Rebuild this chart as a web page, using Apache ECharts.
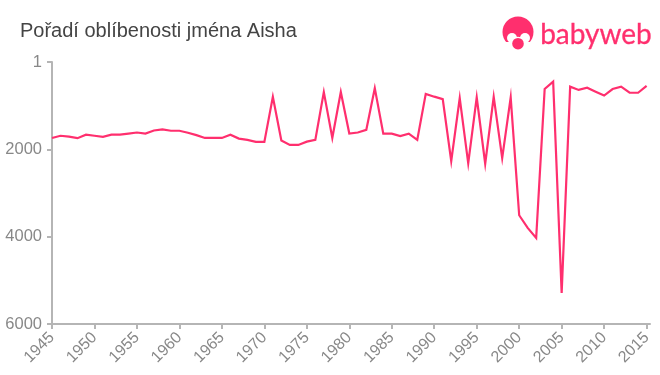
<!DOCTYPE html>
<html>
<head>
<meta charset="utf-8">
<title>Pořadí oblíbenosti jména Aisha</title>
<script src="https://cdn.jsdelivr.net/npm/echarts@6/dist/echarts.min.js"></script>
<style>
  html, body { margin: 0; padding: 0; background: #fff; }
  #main { width: 660px; height: 375px; }
</style>
</head>
<body>
<div id="main"></div>
<script>
const titleText = "Pořadí oblíbenosti jména Aisha";
const logoText = "babyweb";
const years = [
  1945, 1946, 1947, 1948, 1949, 1950, 1951, 1952, 1953, 1954,
  1955, 1956, 1957, 1958, 1959, 1960, 1961, 1962, 1963, 1964,
  1965, 1966, 1967, 1968, 1969, 1970, 1971, 1972, 1973, 1974,
  1975, 1976, 1977, 1978, 1979, 1980, 1981, 1982, 1983, 1984,
  1985, 1986, 1987, 1988, 1989, 1990, 1991, 1992, 1993, 1994,
  1995, 1996, 1997, 1998, 1999, 2000, 2001, 2002, 2003, 2004,
  2005, 2006, 2007, 2008, 2009, 2010, 2011, 2012, 2013, 2014,
  2015,
];
const ranks = [
  1740, 1690, 1710, 1745, 1665, 1690, 1715, 1665, 1665, 1640,
  1615, 1640, 1570, 1545, 1575, 1575, 1620, 1675, 1740, 1740,
  1740, 1665, 1755, 1785, 1830, 1830, 800, 1800, 1900, 1900,
  1825, 1785, 690, 1740, 690, 1640, 1615, 1555, 600, 1640,
  1640, 1695, 1640, 1785, 730, 795, 850, 2270, 830, 2320,
  810, 2330, 800, 2200, 810, 3510, 3800, 4030, 620, 450,
  5290, 565, 640, 590, 680, 770, 620, 565, 705, 705,
  550,
];
const xTicks = [1945, 1950, 1955, 1960, 1965, 1970, 1975, 1980, 1985, 1990, 1995, 2000, 2005, 2010, 2015];
const yTicks = [1, 2000, 4000, 6000];

const pink = "#ff2f6e";
const axisColor = "#b5b5b5";
const labelColor = "#888888";

var myChart = echarts.init(document.getElementById("main"));
var option = {
  animation: false,
  textStyle: { fontFamily: "Liberation Sans" },
  grid: { left: 52, right: 10, top: 62, bottom: 51 },
  xAxis: {
    type: "value",
    min: 1945,
    max: 2015.4,
    splitLine: { show: false },
    axisLine: { lineStyle: { color: axisColor, width: 2 } },
    axisTick: { length: 5, customValues: xTicks, lineStyle: { color: axisColor, width: 2 } },
    axisLabel: {
      customValues: xTicks,
      rotate: 45,
      margin: 11,
      fontSize: 16,
      color: labelColor,
      formatter: (v) => String(v),
    },
  },
  yAxis: {
    type: "value",
    inverse: true,
    min: 1,
    max: 6000,
    splitLine: { show: false },
    axisLine: { show: true, lineStyle: { color: axisColor, width: 2 } },
    axisTick: { show: true, length: 5, customValues: yTicks, lineStyle: { color: axisColor, width: 2 } },
    axisLabel: {
      customValues: yTicks,
      margin: 10,
      fontSize: 16.5,
      color: labelColor,
      formatter: (v) => String(v),
    },
  },
  series: [
    {
      type: "line",
      data: years.map((y, i) => [y, ranks[i]]),
      symbol: "none",
      smooth: false,
      lineStyle: { color: pink, width: 2.2, join: "miter", miterLimit: 10 },
    },
  ],
  graphic: [
    {
      type: "text",
      left: 20,
      top: 21,
      style: { text: titleText, fontFamily: "Liberation Sans", fontSize: 20, fill: "#444444" },
    },
    // logo: hair, face, dummy
    { type: "circle", shape: { cx: 518, cy: 32, r: 15.5 }, style: { fill: pink } },
    { type: "circle", shape: { cx: 512, cy: 38, r: 5 }, style: { fill: "#fff" } },
    { type: "circle", shape: { cx: 525, cy: 38, r: 5 }, style: { fill: "#fff" } },
    { type: "rect", shape: { x: 500, y: 42, width: 36, height: 8 }, style: { fill: "#fff" } },
    { type: "rect", shape: { x: 510, y: 38, width: 16, height: 6 }, style: { fill: "#fff" } },
    { type: "circle", shape: { cx: 518, cy: 43.7, r: 7 }, style: { fill: "#fff" } },
    { type: "circle", shape: { cx: 518, cy: 43.7, r: 5.8 }, style: { fill: pink } },
    {
      type: "text",
      left: 540,
      top: 21,
      style: { text: logoText, fontFamily: "Lato", fontSize: 28, fill: pink, stroke: pink, lineWidth: 0.3 },
    },
  ],
};
option && myChart.setOption(option);
</script>
</body>
</html>
